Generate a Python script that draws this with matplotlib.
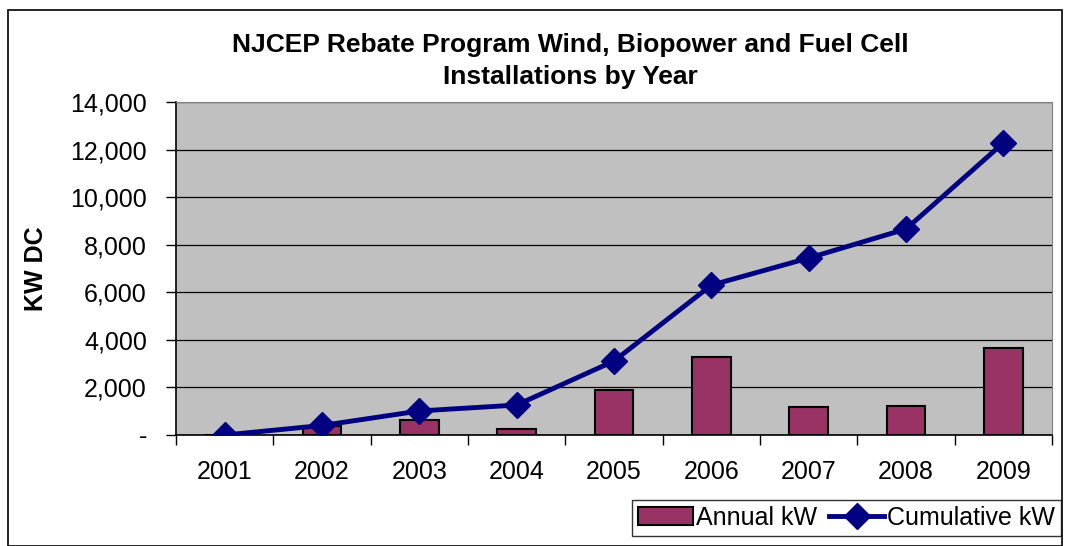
import matplotlib.pyplot as plt
import numpy as np
from matplotlib.patches import Rectangle
from matplotlib.ticker import FuncFormatter

plt.rcParams['font.family'] = ['Liberation Sans', 'DejaVu Sans']

# data
years = ['2001', '2002', '2003', '2004', '2005', '2006', '2007', '2008', '2009']
annual_kw = [0, 360, 640, 270, 1880, 3260, 1170, 1240, 3650]
cumulative_kw = [0, 400, 1010, 1260, 3110, 6300, 7440, 8660, 12280]

fig = plt.figure(figsize=(10.67, 5.46), dpi=100)
ax = fig.add_axes([176 / 1067, 1 - 435 / 546, (1052 - 176) / 1067, (435 - 102) / 546])

x = np.arange(len(years))
ax.set_facecolor('#C0C0C0')
bars = ax.bar(x, annual_kw, width=0.4, color='#993366', edgecolor='black', linewidth=1.5,
              label='Annual kW', zorder=3)
line, = ax.plot(x, cumulative_kw, color='#000080', linewidth=3.5, marker='D', markersize=13,
                label='Cumulative kW', zorder=4)

ax.set_xlim(-0.5, len(years) - 0.5)
ax.set_ylim(0, 14000)
ax.set_yticks(np.arange(0, 14001, 2000))
ax.yaxis.set_major_formatter(FuncFormatter(lambda v, p: '-' if v == 0 else f'{int(v):,}'))
ax.grid(axis='y', color='black', linewidth=0.9, zorder=1)
ax.set_axisbelow(True)

ax.set_xticks(x)
ax.set_xticklabels(years)
ax.set_xticks(np.arange(-0.5, len(years)), minor=True)
ax.tick_params(axis='x', which='major', length=0, pad=18, labelsize=18)
ax.tick_params(axis='x', which='minor', length=7, width=1, direction='out')
ax.tick_params(axis='y', length=7, width=1, labelsize=18, pad=14)

for side in ['top', 'right']:
    ax.spines[side].set_color('#808080')
for side in ['left', 'bottom']:
    ax.spines[side].set_color('black')
    ax.spines[side].set_linewidth(1.2)

ax.set_ylabel('KW DC', fontsize=18, fontweight='bold', labelpad=16)

fig.text(570 / 1067, 1 - 61 / 546,
         'NJCEP Rebate Program Wind, Biopower and Fuel Cell\nInstallations by Year',
         ha='center', va='center', fontsize=19, fontweight='bold', linespacing=1.4)

# outer chart border
fig.patches.append(Rectangle((8 / 1067, 0), 1054 / 1067, 1 - 10 / 546, transform=fig.transFigure,
                             fill=False, edgecolor='black', linewidth=1.2))

leg = fig.legend([bars, line], ['Annual kW', 'Cumulative kW'], loc='lower right',
                 bbox_to_anchor=(1061 / 1067, 10 / 546), ncol=2, borderaxespad=0,
                 fontsize=18, frameon=True, fancybox=False, edgecolor='black',
                 handlelength=2.2, handletextpad=0.1, columnspacing=0.5, borderpad=0.25)
leg.get_frame().set_linewidth(1.0)

fig.savefig('out.png', dpi=100)
